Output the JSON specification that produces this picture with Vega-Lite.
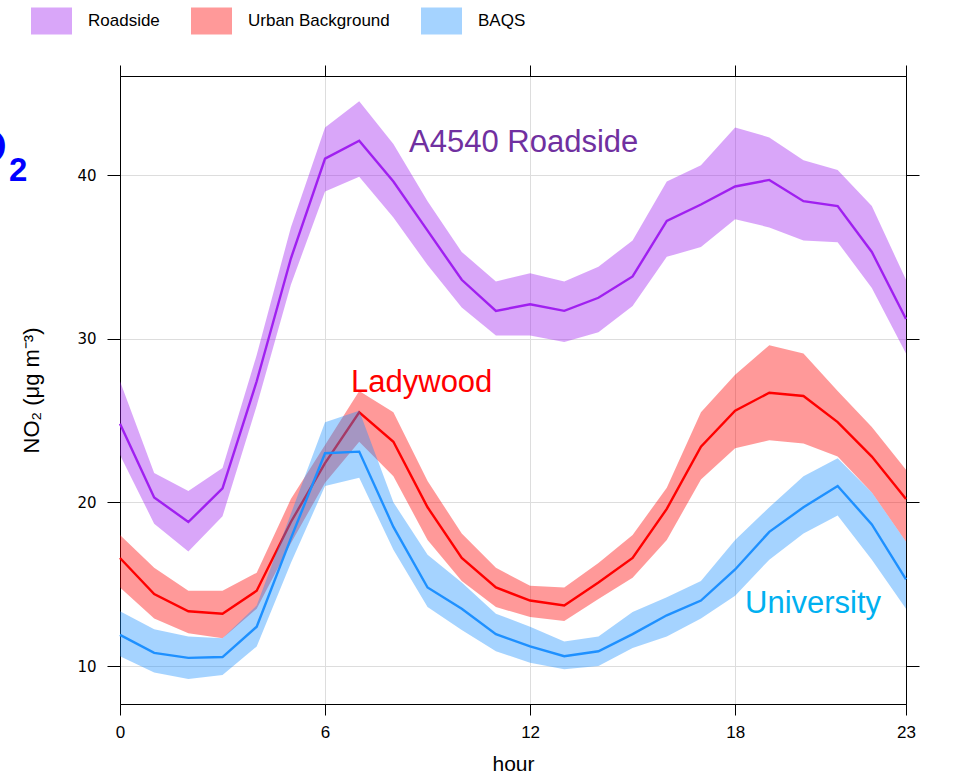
{
  "$schema": "https://vega.github.io/schema/vega-lite/v6.json",
  "autosize": {"type": "none"},
  "width": 786,
  "height": 628,
  "padding": {"left": 120, "top": 76, "right": 72, "bottom": 78},
  "background": "white",
  "config": {
    "view": {"stroke": "black", "strokeWidth": 1},
    "font": "Liberation Sans"
  },
  "resolve": {"axis": {"x": "independent", "y": "independent"}},
  "datasets": {
    "no2": [
      {"hour": 0, "site": "Roadside", "mean": 24.8, "lower": 22.9, "upper": 27.4},
      {"hour": 1, "site": "Roadside", "mean": 20.3, "lower": 18.7, "upper": 21.8},
      {"hour": 2, "site": "Roadside", "mean": 18.8, "lower": 17.0, "upper": 20.7},
      {"hour": 3, "site": "Roadside", "mean": 20.85, "lower": 19.15, "upper": 22.1},
      {"hour": 4, "site": "Roadside", "mean": 27.4, "lower": 25.9, "upper": 29.0},
      {"hour": 5, "site": "Roadside", "mean": 34.9, "lower": 33.3, "upper": 36.8},
      {"hour": 6, "site": "Roadside", "mean": 41.0, "lower": 39.0, "upper": 42.9},
      {"hour": 7, "site": "Roadside", "mean": 42.1, "lower": 39.9, "upper": 44.5},
      {"hour": 8, "site": "Roadside", "mean": 39.6, "lower": 37.4, "upper": 41.9},
      {"hour": 9, "site": "Roadside", "mean": 36.6, "lower": 34.5, "upper": 38.4},
      {"hour": 10, "site": "Roadside", "mean": 33.6, "lower": 31.9, "upper": 35.3},
      {"hour": 11, "site": "Roadside", "mean": 31.7, "lower": 30.2, "upper": 33.5},
      {"hour": 12, "site": "Roadside", "mean": 32.1, "lower": 30.2, "upper": 34.0},
      {"hour": 13, "site": "Roadside", "mean": 31.7, "lower": 29.8, "upper": 33.5},
      {"hour": 14, "site": "Roadside", "mean": 32.5, "lower": 30.4, "upper": 34.4},
      {"hour": 15, "site": "Roadside", "mean": 33.8, "lower": 32.0, "upper": 36.0},
      {"hour": 16, "site": "Roadside", "mean": 37.2, "lower": 35.0, "upper": 39.6},
      {"hour": 17, "site": "Roadside", "mean": 38.2, "lower": 35.6, "upper": 40.6},
      {"hour": 18, "site": "Roadside", "mean": 39.3, "lower": 37.3, "upper": 42.9},
      {"hour": 19, "site": "Roadside", "mean": 39.7, "lower": 36.8, "upper": 42.3},
      {"hour": 20, "site": "Roadside", "mean": 38.4, "lower": 36.0, "upper": 40.9},
      {"hour": 21, "site": "Roadside", "mean": 38.1, "lower": 35.9, "upper": 40.3},
      {"hour": 22, "site": "Roadside", "mean": 35.3, "lower": 33.1, "upper": 38.1},
      {"hour": 23, "site": "Roadside", "mean": 31.2, "lower": 29.1, "upper": 33.6},
      {"hour": 0, "site": "Urban Background", "mean": 16.6, "lower": 14.8, "upper": 18.0},
      {"hour": 1, "site": "Urban Background", "mean": 14.4, "lower": 12.9, "upper": 16.0},
      {"hour": 2, "site": "Urban Background", "mean": 13.35, "lower": 12.0, "upper": 14.6},
      {"hour": 3, "site": "Urban Background", "mean": 13.2, "lower": 11.7, "upper": 14.6},
      {"hour": 4, "site": "Urban Background", "mean": 14.6, "lower": 13.5, "upper": 15.7},
      {"hour": 5, "site": "Urban Background", "mean": 18.8, "lower": 17.5, "upper": 20.2},
      {"hour": 6, "site": "Urban Background", "mean": 22.4, "lower": 21.2, "upper": 23.5},
      {"hour": 7, "site": "Urban Background", "mean": 25.5, "lower": 23.7, "upper": 26.8},
      {"hour": 8, "site": "Urban Background", "mean": 23.7, "lower": 21.6, "upper": 25.5},
      {"hour": 9, "site": "Urban Background", "mean": 19.7, "lower": 17.7, "upper": 21.3},
      {"hour": 10, "site": "Urban Background", "mean": 16.6, "lower": 15.2, "upper": 18.1},
      {"hour": 11, "site": "Urban Background", "mean": 14.8, "lower": 13.6, "upper": 16.0},
      {"hour": 12, "site": "Urban Background", "mean": 14.0, "lower": 13.0, "upper": 14.9},
      {"hour": 13, "site": "Urban Background", "mean": 13.7, "lower": 12.75, "upper": 14.8},
      {"hour": 14, "site": "Urban Background", "mean": 15.1, "lower": 14.1, "upper": 16.3},
      {"hour": 15, "site": "Urban Background", "mean": 16.6, "lower": 15.4, "upper": 18.0},
      {"hour": 16, "site": "Urban Background", "mean": 19.6, "lower": 17.7, "upper": 20.9},
      {"hour": 17, "site": "Urban Background", "mean": 23.4, "lower": 21.4, "upper": 25.5},
      {"hour": 18, "site": "Urban Background", "mean": 25.6, "lower": 23.3, "upper": 27.8},
      {"hour": 19, "site": "Urban Background", "mean": 26.7, "lower": 23.8, "upper": 29.6},
      {"hour": 20, "site": "Urban Background", "mean": 26.5, "lower": 23.6, "upper": 29.1},
      {"hour": 21, "site": "Urban Background", "mean": 24.9, "lower": 22.8, "upper": 26.8},
      {"hour": 22, "site": "Urban Background", "mean": 22.8, "lower": 20.6, "upper": 24.6},
      {"hour": 23, "site": "Urban Background", "mean": 20.2, "lower": 17.6, "upper": 22.0},
      {"hour": 0, "site": "BAQS", "mean": 11.9, "lower": 10.6, "upper": 13.35},
      {"hour": 1, "site": "BAQS", "mean": 10.8, "lower": 9.6, "upper": 12.25},
      {"hour": 2, "site": "BAQS", "mean": 10.5, "lower": 9.2, "upper": 11.8},
      {"hour": 3, "site": "BAQS", "mean": 10.55, "lower": 9.45, "upper": 11.7},
      {"hour": 4, "site": "BAQS", "mean": 12.4, "lower": 11.2, "upper": 13.7},
      {"hour": 5, "site": "BAQS", "mean": 17.8, "lower": 16.3, "upper": 19.3},
      {"hour": 6, "site": "BAQS", "mean": 23.0, "lower": 21.0, "upper": 24.9},
      {"hour": 7, "site": "BAQS", "mean": 23.1, "lower": 21.5, "upper": 25.6},
      {"hour": 8, "site": "BAQS", "mean": 18.5, "lower": 17.1, "upper": 20.0},
      {"hour": 9, "site": "BAQS", "mean": 14.8, "lower": 13.6, "upper": 16.8},
      {"hour": 10, "site": "BAQS", "mean": 13.5, "lower": 12.2, "upper": 15.1},
      {"hour": 11, "site": "BAQS", "mean": 11.95, "lower": 10.9, "upper": 13.2},
      {"hour": 12, "site": "BAQS", "mean": 11.2, "lower": 10.2, "upper": 12.4},
      {"hour": 13, "site": "BAQS", "mean": 10.6, "lower": 9.8, "upper": 11.5},
      {"hour": 14, "site": "BAQS", "mean": 10.9, "lower": 10.0, "upper": 11.8},
      {"hour": 15, "site": "BAQS", "mean": 11.95, "lower": 11.1, "upper": 13.3},
      {"hour": 16, "site": "BAQS", "mean": 13.1, "lower": 11.8, "upper": 14.2},
      {"hour": 17, "site": "BAQS", "mean": 14.0, "lower": 12.9, "upper": 15.2},
      {"hour": 18, "site": "BAQS", "mean": 15.9, "lower": 14.3, "upper": 17.7},
      {"hour": 19, "site": "BAQS", "mean": 18.2, "lower": 16.5, "upper": 19.7},
      {"hour": 20, "site": "BAQS", "mean": 19.7, "lower": 18.1, "upper": 21.6},
      {"hour": 21, "site": "BAQS", "mean": 21.0, "lower": 19.2, "upper": 22.7},
      {"hour": 22, "site": "BAQS", "mean": 18.65, "lower": 16.5, "upper": 20.6},
      {"hour": 23, "site": "BAQS", "mean": 15.3, "lower": 13.5, "upper": 17.6}
    ],
    "labels": [
      {"hour": 8.46, "value": 41.4, "label": "A4540 Roadside", "color": "#7030A0"},
      {"hour": 6.76, "value": 26.74, "label": "Ladywood", "color": "#FF0000"},
      {"hour": 18.29, "value": 13.24, "label": "University", "color": "#00B0F0"}
    ],
    "titleMain": [{"hour": -3.31, "value": 40.73, "label": "NO"}],
    "titleSub": [{"hour": -3.25, "value": 39.63, "label": "2"}]
  },
  "layer": [
    {
      "data": {"name": "no2"},
      "transform": [{"filter": "datum.site === 'Roadside'"}],
      "mark": {"type": "area", "opacity": 0.4},
      "encoding": {
        "x": {
          "field": "hour", "type": "quantitative",
          "scale": {"domain": [0, 23], "nice": false, "zero": false},
          "axis": {
            "orient": "bottom", "values": [0, 6, 12, 18, 23], "grid": true,
            "gridColor": "#DDDDDD", "gridWidth": 1,
            "domainColor": "black", "tickColor": "black", "tickSize": 11,
            "labelFont": "Liberation Sans", "labelFontSize": 17, "labelColor": "black",
            "labelPadding": 9, "labelFlush": false,
            "title": "hour", "titleFont": "Liberation Sans", "titleFontSize": 21,
            "titleFontWeight": "normal", "titleColor": "black", "titlePadding": 13
          }
        },
        "y": {
          "field": "upper", "type": "quantitative",
          "scale": {"domain": [7.68, 46.05], "nice": false, "zero": false},
          "axis": {
            "orient": "left", "values": [10, 20, 30, 40], "grid": true,
            "gridColor": "#DDDDDD", "gridWidth": 1,
            "domainColor": "black", "tickColor": "black", "tickSize": 13,
            "labelFont": "DejaVu Sans", "labelFontSize": 15, "labelColor": "black",
            "labelPadding": 11,
            "title": "NO₂ (μg m⁻³)", "titleFont": "Liberation Sans", "titleFontSize": 22,
            "titleFontWeight": "normal", "titleColor": "black", "titlePadding": 33
          }
        },
        "y2": {"field": "lower"},
        "color": {
          "field": "site", "type": "nominal",
          "scale": {
            "domain": ["Roadside", "Urban Background", "BAQS"],
            "range": ["#A020F0", "#FF0000", "#1E90FF"]
          },
          "legend": {
            "orient": "none", "legendX": -89, "legendY": -76,
            "direction": "horizontal", "title": null, "padding": 0,
            "symbolType": "M-1,-0.66L1,-0.66L1,0.66L-1,0.66Z",
            "symbolSize": 1681, "symbolOpacity": 1, "symbolStrokeWidth": 0,
            "labelFont": "Liberation Sans", "labelFontSize": 17, "labelColor": "black",
            "labelOffset": 16, "columnPadding": 31, "labelLimit": 300
          }
        }
      }
    },
    {
      "data": {"name": "no2"},
      "transform": [{"filter": "datum.site === 'Roadside'"}],
      "mark": {"type": "line", "color": "#A020F0", "strokeWidth": 2.4},
      "encoding": {
        "x": {"field": "hour", "type": "quantitative", "axis": null},
        "y": {"field": "mean", "type": "quantitative", "axis": null}
      }
    },
    {
      "data": {"name": "no2"},
      "transform": [{"filter": "datum.site === 'Urban Background'"}],
      "mark": {"type": "area", "opacity": 0.4},
      "encoding": {
        "x": {"field": "hour", "type": "quantitative", "axis": null},
        "y": {"field": "upper", "type": "quantitative", "axis": null},
        "y2": {"field": "lower"},
        "color": {"field": "site", "type": "nominal"}
      }
    },
    {
      "data": {"name": "no2"},
      "transform": [{"filter": "datum.site === 'Urban Background'"}],
      "mark": {"type": "line", "color": "#FF0000", "strokeWidth": 2.4},
      "encoding": {
        "x": {"field": "hour", "type": "quantitative", "axis": null},
        "y": {"field": "mean", "type": "quantitative", "axis": null}
      }
    },
    {
      "data": {"name": "no2"},
      "transform": [{"filter": "datum.site === 'BAQS'"}],
      "mark": {"type": "area", "opacity": 0.4},
      "encoding": {
        "x": {"field": "hour", "type": "quantitative", "axis": null},
        "y": {"field": "upper", "type": "quantitative", "axis": null},
        "y2": {"field": "lower"},
        "color": {"field": "site", "type": "nominal"}
      }
    },
    {
      "data": {"name": "no2"},
      "transform": [{"filter": "datum.site === 'BAQS'"}],
      "mark": {"type": "line", "color": "#1E90FF", "strokeWidth": 2.4},
      "encoding": {
        "x": {"field": "hour", "type": "quantitative", "axis": null},
        "y": {"field": "mean", "type": "quantitative", "axis": null}
      }
    },
    {
      "data": {"name": "no2"},
      "transform": [{"filter": "datum.site === 'BAQS'"}],
      "mark": {"type": "point", "opacity": 0},
      "encoding": {
        "x": {
          "field": "hour", "type": "quantitative",
          "axis": {"orient": "top", "values": [0, 6, 12, 18, 23], "labels": false, "grid": false,
                   "domainColor": "black", "tickColor": "black", "tickSize": 11, "title": null}
        },
        "y": {
          "field": "mean", "type": "quantitative",
          "axis": {"orient": "right", "values": [10, 20, 30, 40], "labels": false, "grid": false,
                   "domainColor": "black", "tickColor": "black", "tickSize": 13, "title": null}
        }
      }
    },
    {
      "data": {"name": "labels"},
      "mark": {"type": "text", "align": "left", "baseline": "alphabetic", "fontSize": 31, "font": "Liberation Sans"},
      "encoding": {
        "x": {"field": "hour", "type": "quantitative", "axis": null},
        "y": {"field": "value", "type": "quantitative", "axis": null},
        "text": {"field": "label"},
        "color": {"field": "color", "type": "nominal", "scale": null, "legend": null}
      }
    },
    {
      "data": {"name": "titleMain"},
      "mark": {"type": "text", "align": "right", "baseline": "alphabetic", "fontSize": 48, "fontWeight": "bold", "font": "Liberation Sans", "color": "#0000FF", "clip": false},
      "encoding": {
        "x": {"field": "hour", "type": "quantitative", "axis": null},
        "y": {"field": "value", "type": "quantitative", "axis": null},
        "text": {"field": "label"}
      }
    },
    {
      "data": {"name": "titleSub"},
      "mark": {"type": "text", "align": "left", "baseline": "alphabetic", "fontSize": 33, "fontWeight": "bold", "font": "Liberation Sans", "color": "#0000FF", "clip": false},
      "encoding": {
        "x": {"field": "hour", "type": "quantitative", "axis": null},
        "y": {"field": "value", "type": "quantitative", "axis": null},
        "text": {"field": "label"}
      }
    }
  ]
}
